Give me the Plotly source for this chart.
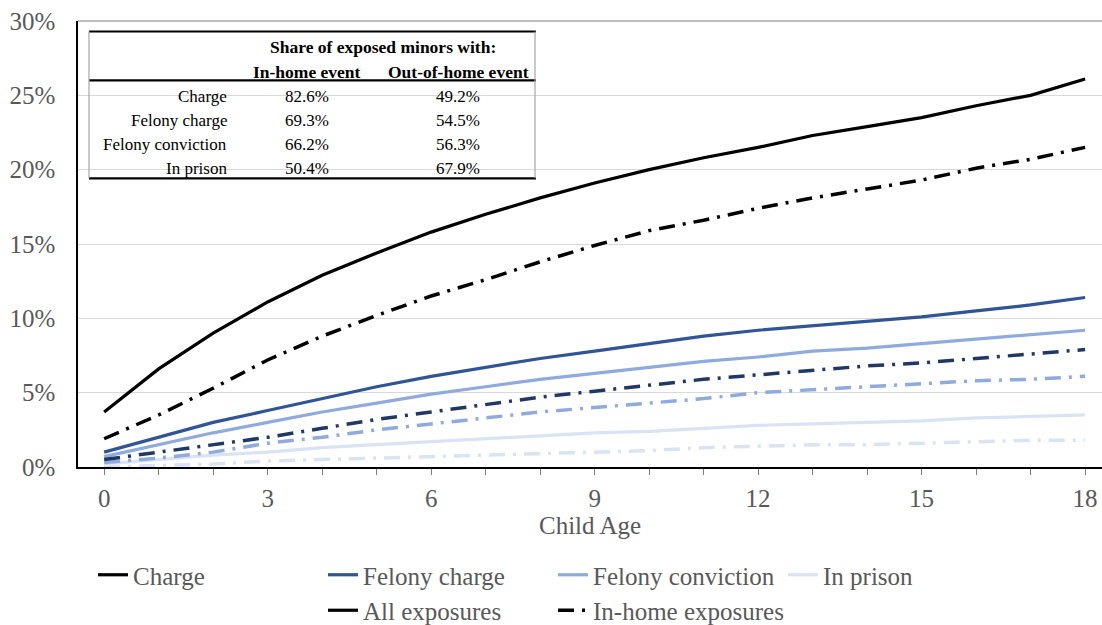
import plotly.graph_objects as go

ages = list(range(19))

charge_all = [3.7, 6.6, 9.0, 11.1, 12.9, 14.4, 15.8, 17.0, 18.1, 19.1, 20.0, 20.8, 21.5, 22.3, 22.9, 23.5, 24.3, 25.0, 26.1]
charge_home = [1.9, 3.5, 5.3, 7.2, 8.8, 10.2, 11.5, 12.6, 13.8, 14.9, 15.9, 16.6, 17.4, 18.1, 18.7, 19.3, 20.1, 20.7, 21.5]
fcharge_all = [1.0, 2.0, 3.0, 3.8, 4.6, 5.4, 6.1, 6.7, 7.3, 7.8, 8.3, 8.8, 9.2, 9.5, 9.8, 10.1, 10.5, 10.9, 11.4]
fcharge_home = [0.5, 1.0, 1.5, 2.0, 2.6, 3.2, 3.7, 4.2, 4.7, 5.1, 5.5, 5.9, 6.2, 6.5, 6.8, 7.0, 7.3, 7.6, 7.9]
fconv_all = [0.7, 1.5, 2.3, 3.0, 3.7, 4.3, 4.9, 5.4, 5.9, 6.3, 6.7, 7.1, 7.4, 7.8, 8.0, 8.3, 8.6, 8.9, 9.2]
fconv_home = [0.3, 0.6, 1.0, 1.6, 2.0, 2.5, 2.9, 3.3, 3.7, 4.0, 4.3, 4.6, 5.0, 5.2, 5.4, 5.6, 5.8, 5.9, 6.1]
prison_all = [0.2, 0.5, 0.8, 1.0, 1.3, 1.5, 1.7, 1.9, 2.1, 2.3, 2.4, 2.6, 2.8, 2.9, 3.0, 3.1, 3.3, 3.4, 3.5]
prison_home = [0.0, 0.1, 0.2, 0.4, 0.5, 0.6, 0.7, 0.8, 0.9, 1.0, 1.1, 1.3, 1.4, 1.5, 1.5, 1.6, 1.7, 1.8, 1.8]

table_rows = ["Charge", "Felony charge", "Felony conviction", "In prison"]
table_inhome = ["82.6%", "69.3%", "66.2%", "50.4%"]
table_outhome = ["49.2%", "54.5%", "56.3%", "67.9%"]

x_tickvals = list(range(19))
x_ticktext = [str(v) if v % 3 == 0 else "" for v in x_tickvals]
y_tickvals = [0, 5, 10, 15, 20, 25, 30]
y_ticktext = ["0%", "5%", "10%", "15%", "20%", "25%", "30%"]

FONT = "Liberation Serif"
DASH = "16px,8px,3px,8px"

fig = go.Figure()

series = [
    ("Charge", charge_all, charge_home, "#000000", "#000000"),
    ("Felony charge", fcharge_all, fcharge_home, "#2F5597", "#1F3864"),
    ("Felony conviction", fconv_all, fconv_home, "#8FAADC", "#8FAADC"),
    ("In prison", prison_all, prison_home, "#DAE3F3", "#DAE3F3"),
]

# draw lightest first so dark lines are on top
for rank, (name, solid, dashed, c1, c2) in reversed(list(enumerate(series))):
    fig.add_trace(go.Scatter(x=ages, y=dashed, mode="lines", name=name + " (in-home)",
                             line=dict(color=c2, width=3.5, dash=DASH), showlegend=False))
    fig.add_trace(go.Scatter(x=ages, y=solid, mode="lines", name=name,
                             line=dict(color=c1, width=3.2), legendrank=rank + 1))

fig.add_trace(go.Scatter(x=[None], y=[None], mode="lines", name=" ",
                         line=dict(color="rgba(0,0,0,0)", width=3), legendrank=5, hoverinfo="skip"))
fig.add_trace(go.Scatter(x=[None], y=[None], mode="lines", name="All exposures",
                         line=dict(color="#000000", width=3.2), legendrank=6))
fig.add_trace(go.Scatter(x=[None], y=[None], mode="lines", name="In-home exposures",
                         line=dict(color="#000000", width=3.5, dash=DASH), legendrank=7))

FW, FH = 1102, 625
# plot area in page pixels
PL, PT, PR, PB = 78, 20.5, 1102, 467
W, H = PR - PL, PB - PT


def px(x):
    return (x - PL) / W


def py(y):
    return (PB - y) / H


# table
shapes = []
for yy, w in [(31, 2.2), (80, 2.2), (178, 2.2)]:
    shapes.append(dict(type="line", xref="paper", yref="paper", x0=px(89), x1=px(536),
                       y0=py(yy), y1=py(yy), line=dict(color="#000000", width=w)))
for xx in [89, 535]:
    shapes.append(dict(type="line", xref="paper", yref="paper", x0=px(xx), x1=px(xx),
                       y0=py(31), y1=py(178), line=dict(color="#A6A6A6", width=1.2)))
shapes.append(dict(type="line", xref="paper", yref="paper", x0=0, x1=1, y0=1, y1=1,
                   line=dict(color="#7F7F7F", width=1.2)))

ann = []
ann.append(dict(text="<b>Share of exposed minors with:</b>", x=px(383), y=py(47), font_size=17.5))
ann.append(dict(text="<b>In-home event</b>", x=px(307), y=py(72), font_size=17.5))
ann.append(dict(text="<b>Out-of-home event</b>", x=px(458), y=py(72), font_size=17.5))
for i, (r, a, b) in enumerate(zip(table_rows, table_inhome, table_outhome)):
    yy = 96 + i * 24
    ann.append(dict(text=r, x=px(229), y=py(yy), xanchor="right"))
    ann.append(dict(text=a, x=px(307), y=py(yy)))
    ann.append(dict(text=b, x=px(458), y=py(yy)))
annotations = []
for a in ann:
    fs = a.pop("font_size", 17)
    d = dict(xref="paper", yref="paper", showarrow=False, yanchor="middle",
             font=dict(family=FONT, size=fs, color="#000000"))
    d.setdefault("xanchor", "center")
    d.update(a)
    annotations.append(d)

fig.update_layout(
    width=FW, height=FH,
    paper_bgcolor="white", plot_bgcolor="white",
    margin=dict(l=PL, r=FW - PR, t=PT, b=FH - PB, autoexpand=False),
    font=dict(family=FONT, size=25, color="#595959"),
    shapes=shapes, annotations=annotations,
    showlegend=True,
    legend=dict(orientation="h", x=px(93), xref="paper", y=1 - 552 / FH, yref="container",
                xanchor="left", yanchor="top",
                entrywidth=185, entrywidthmode="pixels", traceorder="normal",
                font=dict(family=FONT, size=25, color="#595959"),
                bgcolor="rgba(0,0,0,0)", tracegroupgap=0, itemwidth=30),
    xaxis=dict(range=[-0.48, 18.31], tickvals=x_tickvals, ticktext=x_ticktext,
               ticks="outside", ticklen=6, tickcolor="#7F7F7F", tickwidth=1,
               showline=True, linecolor="#000000", linewidth=1.5, showgrid=False,
               zeroline=False, ticklabelstandoff=2, automargin=False,
               ticklabeloverflow="allow",
               title=dict(text="Child Age", standoff=4, font=dict(size=25, color="#595959"))),
    yaxis=dict(range=[0, 30], tickvals=y_tickvals, ticktext=y_ticktext,
               showline=True, linecolor="#000000", linewidth=1.5, automargin=False,
               showgrid=True, gridcolor="#D9D9D9", gridwidth=1, zeroline=False,
               ticklabeloverflow="allow",
               ticks="", ticklabelstandoff=16),
)

fig.write_html("out.html", config={"displayModeBar": False},
               post_script="document.body.style.margin='0';document.body.style.overflow='hidden';")
